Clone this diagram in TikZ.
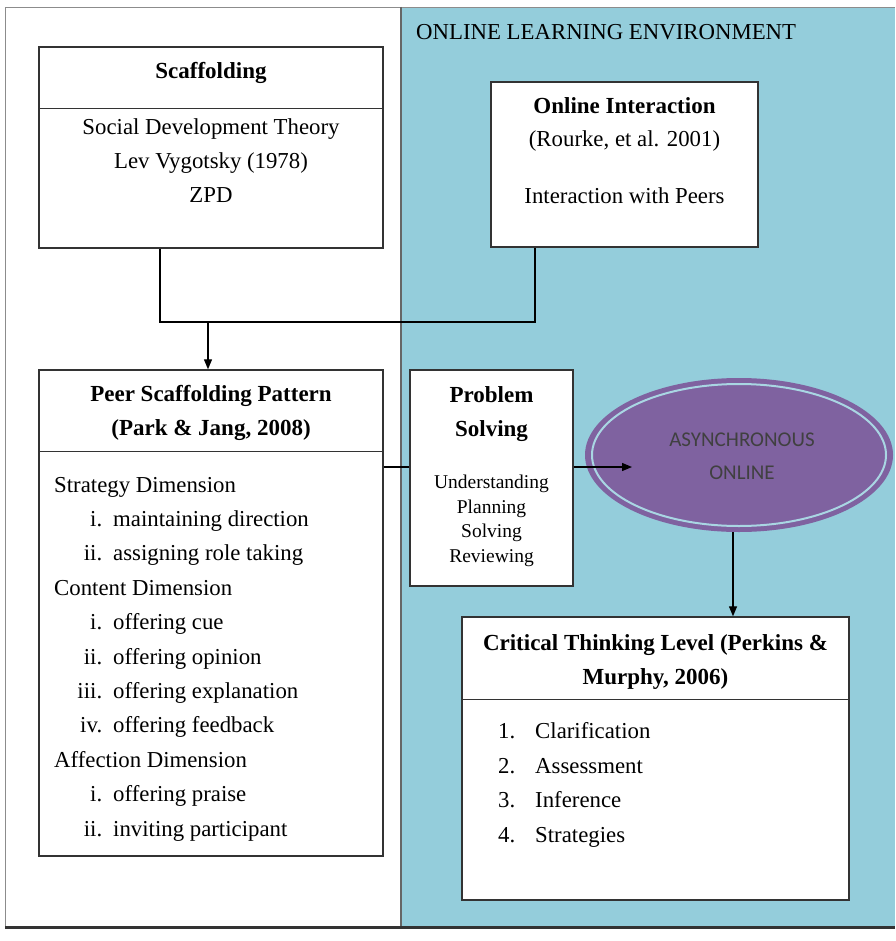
\documentclass[tikz,border=0pt]{standalone}
\usepackage{fontspec}
\setmainfont{Liberation Serif}
\newfontfamily\schreefloos{Carlito}
\usepackage{tikz}
\usetikzlibrary{calc,shapes.geometric,arrows.meta}
\definecolor{omgeving}{HTML}{94CDDB}
\definecolor{paars}{HTML}{7F62A0}
\definecolor{ringkleur}{HTML}{A9D6E3}
\newcommand{\romnr}[1]{\makebox[48pt][r]{#1}\hspace{11pt}}
\newcommand{\lijstnr}[1]{\makebox[15pt][r]{#1}\hspace{20pt}}
\NewDocumentCommand{\kader}{O{0} m m m m}{ % scheidingslijn, naam, midden, breedte, hoogte
    \node[kaderstijl, minimum width=#4pt, minimum height=#5pt] (#2) at (#3) {};
    \ifdim #1pt>0pt
    \draw[kaderlijn] ($(#2.north west)+(0,#1)$) -- ($(#2.north east)+(0,#1)$);
    \fi
}

\begin{document}
\begin{tikzpicture}[x=1pt, y=-1pt,
    kaderstijl/.style={draw=black!80, line width=1.4pt, fill=white, inner sep=0pt},
    kaderlijn/.style={draw=black!80, line width=1.4pt},
    lijn/.style={line width=1.3pt},
    pijl/.style={lijn, -{Triangle[length=10pt,width=8pt]}},
    tekst/.style={font=\fontsize{22.8}{34.4}\selectfont, inner sep=0pt, anchor=base},
    kop/.style={tekst, font=\fontsize{23}{33.5}\selectfont\bfseries, align=center},
    klein/.style={tekst, font=\fontsize{19.5}{24.5}\selectfont, align=center}]
    \useasboundingbox[fill=white] (0,0) rectangle (895,941);
    % achtergrond
    \fill[omgeving] (401,7) rectangle (895,927);
    \draw[black!45] (5,927) -- (5,7) -- (895,7);
    \draw[black!60, line width=1.5pt] (401,7) -- (401,927);
    \draw[black!80, line width=3pt] (5,927) -- (895,927);
    \node[tekst, anchor=base west] (omg) at (416,40) {ONLINE LEARNING ENVIRONMENT};
    % kaders
    \kader[62]{scaf}{211,147.5}{344}{201}
    \kader{oi}{624.5,164.5}{267}{165}
    \kader[82]{peer}{211,613}{344}{486}
    \kader{ps}{491.5,478}{163}{216}
    \kader[83]{ct}{655.5,758.5}{387}{283}
    \node[ellipse, fill=paars, minimum width=308pt, minimum height=154pt, inner sep=0pt] (async) at (739,455) {};
    \draw[ringkleur, line width=2pt] (async.center) ellipse (147 and 71);
    % teksten (base = laatste regel)
    \node[kop] (scafK) at (211,79) {Scaffolding};
    \node[tekst, align=center] (scafB) at (211,203) {Social Development Theory\\Lev Vygotsky (1978)\\ZPD};
    \node[kop] (oiK) at (624.5,114) {Online Interaction};
    \node[tekst] (oiB) at (624.5,147) {(Rourke, et al. 2001)};
    \node[tekst] (oiC) at (624.5,204) {Interaction with Peers};
    \node[kop] (peerK) at (211,435) {Peer Scaffolding Pattern\\(Park \& Jang, 2008)};
    \node[tekst, anchor=base west, align=left] (peerL) at (54,836) {Strategy Dimension\\
        \romnr{i.}maintaining direction\\ \romnr{ii.}assigning role taking\\
        Content Dimension\\
        \romnr{i.}offering cue\\ \romnr{ii.}offering opinion\\
        \romnr{iii.}offering explanation\\ \romnr{iv.}offering feedback\\
        Affection Dimension\\
        \romnr{i.}offering praise\\ \romnr{ii.}inviting participant};
    \node[kop] (psK) at (491.5,436) {Problem\\Solving};
    \node[klein] (psB) at (491.5,562) {Understanding\\Planning\\Solving\\Reviewing};
    \node[tekst, font=\schreefloos\fontsize{21}{33}\selectfont, text=black!75, align=center] (asyncT) at (742,479) {ASYNCHRONOUS\\ONLINE};
    \node[kop] (ctK) at (655.5,684) {Critical Thinking Level (Perkins \&\\Murphy, 2006)};
    \node[tekst, anchor=base west, align=left] (ctL) at (500,842) {\lijstnr{1.}Clarification\\
        \lijstnr{2.}Assessment\\ \lijstnr{3.}Inference\\ \lijstnr{4.}Strategies};
    % verbindingen
    \coordinate (knik1) at (160,322);
    \coordinate (knik2) at (535,322);
    \coordinate (splits) at (208,322);
    \draw[lijn] (scaf.south -| knik1) -- (knik1) -- (knik2) -- (oi.south -| knik2);
    \draw[pijl] (splits) -- (splits |- peer.north);
    \coordinate (hoogte) at (0,467);
    \coordinate (punt) at (632,467);
    \draw[lijn] (peer.east |- hoogte) -- (ps.west |- hoogte);
    \draw[pijl] (ps.east |- hoogte) -- (punt);
    \draw[pijl] ([xshift=-6pt]async.south) -- ([xshift=-6pt]async.south |- ct.north);
\end{tikzpicture}
\end{document}
